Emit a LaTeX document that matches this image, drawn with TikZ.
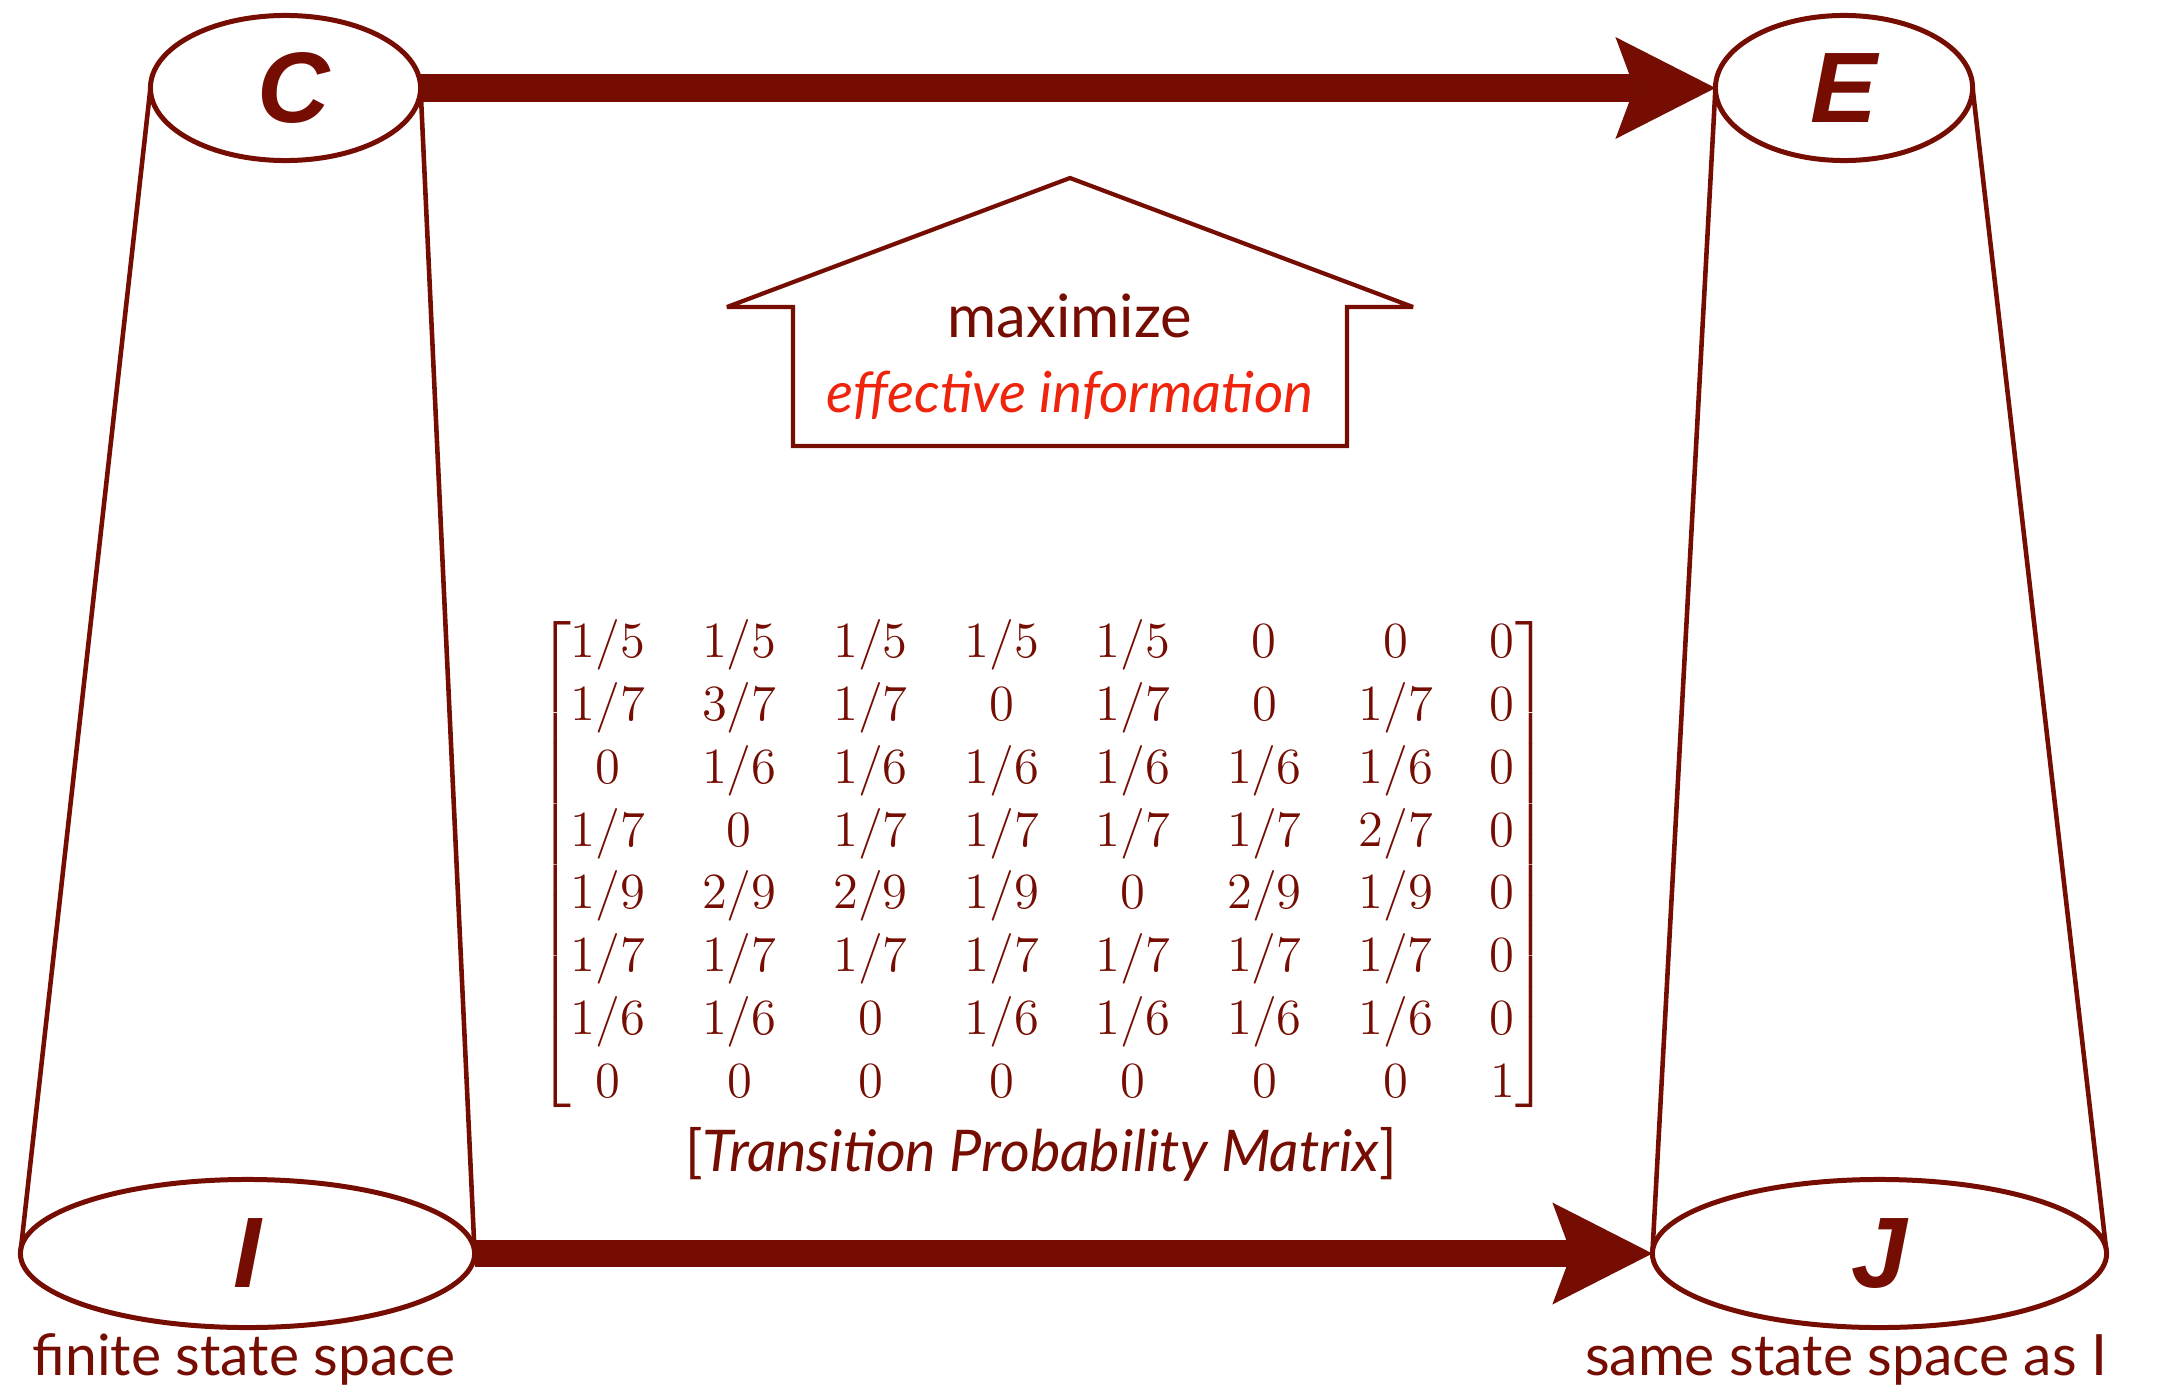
\documentclass[tikz,border=0pt]{standalone}
\usepackage{amsmath}
\usepackage{fontspec}
\usetikzlibrary{arrows.meta,shapes.geometric}
\newfontfamily\labelfont{Lato}
\newfontfamily\letterfont{Liberation Sans}
\definecolor{dred}{RGB}{117,13,2}
\definecolor{bred}{RGB}{238,36,12}
\begin{document}
\begin{tikzpicture}[x=0.01cm,y=-0.01cm,
  cyl/.style={ellipse, draw=dred, fill=white, line width=1.42pt, inner sep=0pt, outer sep=0pt,
    text=dred, font=\letterfont\bfseries\itshape\fontsize{28.5}{30}\selectfont},
  side/.style={draw=dred, line width=1.3pt},
  bigarrow/.style={draw=dred, line width=7.68pt,
    -{Stealth[length=28.45pt, width=29pt, inset=5.4pt, line width=0pt]}},
  txt/.style={inner sep=0pt, text=dred, font=\labelfont\fontsize{17}{20}\selectfont},
  btxt/.style={inner sep=0pt, text=dred, font=\labelfont\fontsize{16.2}{19}\selectfont},
  itxt/.style={inner sep=0pt, font=\labelfont\itshape\fontsize{16.1}{19}\selectfont},
  house/.style={draw=dred, line width=1.2pt, line join=miter, miter limit=2}
]
\useasboundingbox (0,0) rectangle (2173,1391);

% house shape
\draw[house] (727,307) -- (1070,178) -- (1413,307) -- (1347,307) -- (1347,446)
  -- (793,446) -- (793,307) -- cycle;
\node[txt, anchor=base] (max) at (1070,337) {maximize};
\node[itxt, anchor=base, text=bred] (eff) at (1070,412) {effective information};

% ellipses
\node[cyl, minimum width=2.70cm, minimum height=1.45cm] (C) at (285.5,88) {\hspace*{0.16cm}C};
\node[cyl, minimum width=2.57cm, minimum height=1.45cm] (E) at (1844,88) {E};
\node[cyl, minimum width=4.54cm, minimum height=1.48cm] (I) at (247.5,1253.5) {I};
\node[cyl, minimum width=4.54cm, minimum height=1.48cm] (J) at (1879.5,1253.5) {J};

% cylinder sides
\draw[side] (C.west) -- (I.west);
\draw[side] (C.east) -- (I.east);
\draw[side] (E.west) -- (J.west);
\draw[side] (E.east) -- (J.east);

% arrows
\draw[bigarrow] (C.east) -- (E.west);
\draw[bigarrow] (I.east) -- (J.west);

% matrix
\node[inner sep=0pt, text=dred, font=\fontsize{15.4}{17.84}\selectfont] (M) at (1043,865)
{$\arraycolsep=8.1pt
\begin{bmatrix}
1/5 & 1/5 & 1/5 & 1/5 & 1/5 & 0 & 0 & 0\\
1/7 & 3/7 & 1/7 & 0 & 1/7 & 0 & 1/7 & 0\\
0 & 1/6 & 1/6 & 1/6 & 1/6 & 1/6 & 1/6 & 0\\
1/7 & 0 & 1/7 & 1/7 & 1/7 & 1/7 & 2/7 & 0\\
1/9 & 2/9 & 2/9 & 1/9 & 0 & 2/9 & 1/9 & 0\\
1/7 & 1/7 & 1/7 & 1/7 & 1/7 & 1/7 & 1/7 & 0\\
1/6 & 1/6 & 0 & 1/6 & 1/6 & 1/6 & 1/6 & 0\\
0 & 0 & 0 & 0 & 0 & 0 & 0 & 1
\end{bmatrix}$};
\node[txt, anchor=base, font=\labelfont\fontsize{16.35}{19}\selectfont] (cap) at (1041,1171) {[\textit{Transition Probability Matrix}]};

% bottom labels
\node[btxt, anchor=base west] (fin) at (32,1375) {finite state space};
\node[btxt, anchor=base east] (same) at (2108,1375) {same state space as I};
\end{tikzpicture}
\end{document}
